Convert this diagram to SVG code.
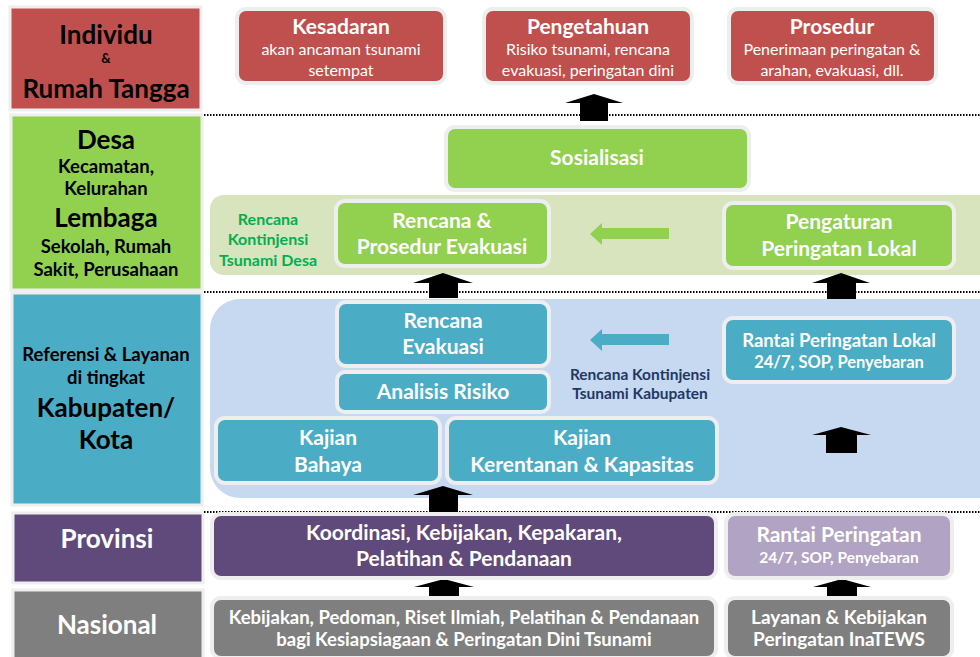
<svg xmlns="http://www.w3.org/2000/svg" width="980" height="657" viewBox="0 0 980 657">
<style>
text{font-family:Lato,"Open Sans","Liberation Sans",sans-serif;text-anchor:middle;font-weight:bold}
.lvl{stroke:#EEEEEE;stroke-width:3}
.box{stroke:#EEEEEE;stroke-width:4}
.w{fill:#FFFFFF}
.k{fill:#000000}
.t20{font-size:21px}
.t18{font-size:19px}
.t17{font-size:18.5px}
.t14{font-size:16.5px}
.reg{font-weight:normal;font-size:16px}
.big{font-size:26px}
.mid{font-size:18.5px}
.dot{stroke:#000;stroke-width:2;stroke-dasharray:1.5 1.5;fill:none}
.arr{fill:#000}
</style>
<rect width="980" height="657" fill="#FFFFFF"/>

<!-- left level column -->
<g id="lvl-individu">
<rect class="lvl" x="10" y="7" width="191" height="103" fill="#C0504D"/>
<text class="k big" x="106" y="44">Individu</text>
<text class="k" x="106" y="63" font-size="13">&amp;</text>
<text class="k big" x="106" y="98">Rumah Tangga</text>
</g>
<g id="lvl-desa">
<rect class="lvl" x="11" y="115" width="191" height="175" fill="#92D050"/>
<text class="k big" x="106" y="149">Desa</text>
<text class="k mid" x="106" y="173">Kecamatan,</text>
<text class="k mid" x="106" y="195">Kelurahan</text>
<text class="k big" x="106" y="227">Lembaga</text>
<text class="k mid" x="106" y="253">Sekolah, Rumah</text>
<text class="k mid" x="106" y="276">Sakit, Perusahaan</text>
</g>
<g id="lvl-kab">
<rect class="lvl" x="12" y="293" width="190" height="212" fill="#4BACC6"/>
<text class="k" x="106" y="361" font-size="18.5">Referensi &amp; Layanan</text>
<text class="k" x="106" y="384" font-size="18.5">di tingkat</text>
<text class="k big" x="106" y="417">Kabupaten/</text>
<text class="k big" x="106" y="449">Kota</text>
</g>
<g id="lvl-prov">
<rect class="lvl" x="13" y="513" width="190" height="70" fill="#604A7B"/>
<text class="w" x="107" y="548" font-size="26">Provinsi</text>
</g>
<g id="lvl-nas">
<rect class="lvl" x="13" y="590" width="190" height="70" fill="#7F7F7F"/>
<text class="w" x="107" y="634" font-size="26">Nasional</text>
</g>

<!-- bands -->
<g id="band-desa">
<rect x="210" y="195" width="790" height="80" rx="14" fill="#D7E4BD"/>
<text x="268" y="225" font-size="16" fill="#00B050">Rencana</text>
<text x="268" y="245" font-size="16" fill="#00B050">Kontinjensi</text>
<text x="268" y="266" font-size="16" fill="#00B050">Tsunami Desa</text>
</g>
<g id="band-kab">
<rect x="210" y="299" width="800" height="199" rx="30" fill="#C6D9F1"/>
<text x="640" y="380" font-size="15.5" fill="#1F3864">Rencana Kontinjensi</text>
<text x="640" y="399" font-size="15.5" fill="#1F3864">Tsunami Kabupaten</text>
</g>

<!-- connectors: dotted separators and arrows -->
<g id="connectors">
<line class="dot" x1="204" y1="115" x2="980" y2="115"/>
<line class="dot" x1="204" y1="292" x2="980" y2="292"/>
<line class="dot" x1="204" y1="512" x2="980" y2="512"/>
<path class="arr" d="M594 94 L623 103 L608 103 L608 121 L580 121 L580 103 L565 103 Z"/>
<path class="arr" d="M443 273 L473 283 L458 283 L458 298 L429 298 L429 283 L413 283 Z"/>
<path class="arr" d="M841 273 L870 283 L856 283 L856 299 L827 299 L827 283 L812 283 Z"/>
<path class="arr" d="M443 486 L473 495 L458 495 L458 512 L429 512 L429 495 L413 495 Z"/>
<path class="arr" d="M841 427 L871 435 L857 435 L857 453 L826 453 L826 435 L812 435 Z"/>
<path class="arr" d="M444 579 L474 587 L459 587 L459 600 L429 600 L429 587 L414 587 Z"/>
<path class="arr" d="M842 579 L871 587 L857 587 L857 600 L827 600 L827 587 L813 587 Z"/>
<path d="M590 234 L602 223 L602 228 L669 228 L669 239 L602 239 L602 245 Z" fill="#92D050"/>
<path d="M590 340 L602 329 L602 334 L669 334 L669 345 L602 345 L602 351 Z" fill="#4BACC6"/>
</g>

<!-- top boxes -->
<g id="kesadaran">
<rect class="box" x="237" y="9" width="208" height="74" rx="9" fill="#C0504D"/>
<text class="w t20" x="341" y="34">Kesadaran</text>
<text class="w reg" x="341" y="55">akan ancaman tsunami</text>
<text class="w reg" x="341" y="76">setempat</text>
</g>
<g id="pengetahuan">
<rect class="box" x="484" y="9" width="208" height="74" rx="9" fill="#C0504D"/>
<text class="w t20" x="588" y="34">Pengetahuan</text>
<text class="w reg" x="588" y="55">Risiko tsunami, rencana</text>
<text class="w reg" x="588" y="76">evakuasi, peringatan dini</text>
</g>
<g id="prosedur">
<rect class="box" x="729" y="9" width="207" height="74" rx="9" fill="#C0504D"/>
<text class="w t20" x="832" y="34">Prosedur</text>
<text class="w reg" x="832" y="55">Penerimaan peringatan &amp;</text>
<text class="w reg" x="832" y="76">arahan, evakuasi, dll.</text>
</g>

<!-- desa boxes -->
<g id="sosialisasi">
<rect class="box" x="446" y="127" width="303" height="63" rx="9" fill="#92D050"/>
<text class="w t20" x="597" y="165">Sosialisasi</text>
</g>
<g id="rencana-prosedur">
<rect class="box" x="336" y="201" width="213" height="65" rx="9" fill="#92D050"/>
<text class="w t20" x="442" y="228">Rencana &amp;</text>
<text class="w t20" x="442" y="254">Prosedur Evakuasi</text>
</g>
<g id="pengaturan">
<rect class="box" x="724" y="203" width="230" height="65" rx="9" fill="#92D050"/>
<text class="w t20" x="839" y="229">Pengaturan</text>
<text class="w t20" x="839" y="256">Peringatan Lokal</text>
</g>

<!-- kabupaten boxes -->
<g id="rencana-evakuasi">
<rect class="box" x="337" y="302" width="212" height="64" rx="9" fill="#4BACC6"/>
<text class="w t20" x="443" y="328">Rencana</text>
<text class="w t20" x="443" y="354">Evakuasi</text>
</g>
<g id="analisis-risiko">
<rect class="box" x="337" y="372" width="212" height="40" rx="8" fill="#4BACC6"/>
<text class="w t20" x="443" y="399">Analisis Risiko</text>
</g>
<g id="kajian-bahaya">
<rect class="box" x="216" y="418" width="224" height="65" rx="9" fill="#4BACC6"/>
<text class="w t20" x="328" y="445">Kajian</text>
<text class="w t20" x="328" y="472">Bahaya</text>
</g>
<g id="kajian-kerentanan">
<rect class="box" x="447" y="418" width="270" height="65" rx="9" fill="#4BACC6"/>
<text class="w t20" x="582" y="445">Kajian</text>
<text class="w t20" x="582" y="472">Kerentanan &amp; Kapasitas</text>
</g>
<g id="rantai-lokal">
<rect class="box" x="724" y="318" width="230" height="64" rx="9" fill="#4BACC6"/>
<text class="w t17" x="839" y="347">Rantai Peringatan Lokal</text>
<text class="w t14" x="839" y="368">24/7, SOP, Penyebaran</text>
</g>

<!-- provinsi -->
<g id="koordinasi">
<rect class="box" x="212" y="514" width="504" height="64" rx="9" fill="#604A7B"/>
<text class="w t20" x="464" y="540">Koordinasi, Kebijakan, Kepakaran,</text>
<text class="w t20" x="464" y="566">Pelatihan &amp; Pendanaan</text>
</g>
<g id="rantai-prov">
<rect class="box" x="726" y="514" width="226" height="64" rx="9" fill="#B1A3C4"/>
<text class="w t20" x="839" y="542">Rantai Peringatan</text>
<text class="w" x="839" y="563" font-size="15.5">24/7, SOP, Penyebaran</text>
</g>

<!-- nasional -->
<g id="kebijakan-nasional">
<rect class="box" x="212" y="598" width="504" height="60" rx="9" fill="#7F7F7F"/>
<text class="w t17" x="464" y="624">Kebijakan, Pedoman, Riset Ilmiah, Pelatihan &amp; Pendanaan</text>
<text class="w t17" x="464" y="646">bagi Kesiapsiagaan &amp; Peringatan Dini Tsunami</text>
</g>
<g id="layanan-inatews">
<rect class="box" x="726" y="598" width="226" height="60" rx="9" fill="#7F7F7F"/>
<text class="w t18" x="839" y="624">Layanan &amp; Kebijakan</text>
<text class="w t18" x="839" y="646">Peringatan InaTEWS</text>
</g>
</svg>
